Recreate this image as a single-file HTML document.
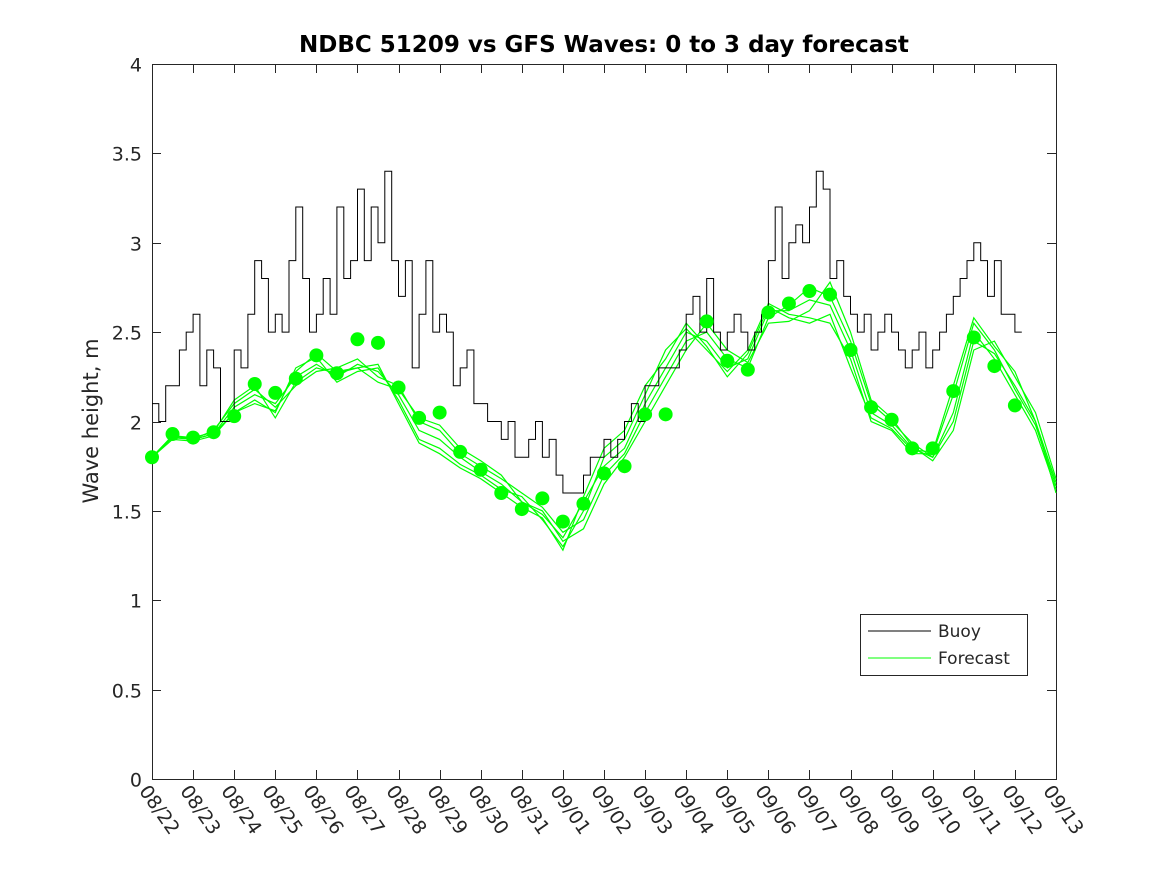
<!DOCTYPE html>
<html><head><meta charset="utf-8"><style>
body{margin:0;background:#fff}
svg text{font-family:"DejaVu Sans","Liberation Sans",sans-serif;fill:#262626}
</style></head><body>
<svg width="1167" height="875" viewBox="0 0 1167 875">
<rect width="1167" height="875" fill="#fff"/>
<text x="604" y="52" text-anchor="middle" font-size="23" font-weight="bold" style="fill:#000">NDBC 51209 vs GFS Waves: 0 to 3 day forecast</text>
<g id="axes"></g>
<g id="plot"></g>
<text transform="translate(98,421) rotate(-90)" text-anchor="middle" font-size="21">Wave height, m</text>
<g>
<rect x="860.5" y="614.5" width="167" height="61" fill="#fff" stroke="#262626" stroke-width="1"/>
<line x1="868" y1="631" x2="931" y2="631" stroke="#000"/>
<text x="938" y="637" font-size="17">Buoy</text>
<line x1="868" y1="658" x2="931" y2="658" stroke="#00ff00"/>
<text x="938" y="664" font-size="17">Forecast</text>
</g>
</svg>
<script>
const xTickLabels=["08/22","08/23","08/24","08/25","08/26","08/27","08/28","08/29","08/30","08/31","09/01","09/02","09/03","09/04","09/05","09/06","09/07","09/08","09/09","09/10","09/11","09/12","09/13"];
const yTicks=[0,0.5,1,1.5,2,2.5,3,3.5,4];
const yTickLabels=["0","0.5","1","1.5","2","2.5","3","3.5","4"];
// buoy every 4 hours (days from 08/22)
const buoy=[2.1,2.0,2.2,2.2,2.4,2.5,
2.6,2.2,2.4,2.3,2.0,2.0,
2.4,2.3,2.6,2.9,2.8,2.5,
2.6,2.5,2.9,3.2,2.8,2.5,
2.6,2.8,2.6,3.2,2.8,2.9,
3.3,2.9,3.2,3.0,3.4,2.9,
2.7,2.9,2.3,2.6,2.9,2.5,
2.6,2.5,2.2,2.3,2.4,2.1,
2.1,2.0,2.0,1.9,2.0,1.8,
1.8,1.9,2.0,1.8,1.9,1.7,
1.6,1.6,1.6,1.7,1.8,1.8,
1.9,1.8,1.9,2.0,2.1,2.0,
2.2,2.2,2.3,2.3,2.3,2.4,
2.6,2.7,2.5,2.8,2.5,2.4,
2.5,2.6,2.5,2.4,2.5,2.6,
2.9,3.2,2.8,3.0,3.1,3.0,
3.2,3.4,3.3,2.8,2.9,2.7,
2.6,2.5,2.6,2.4,2.5,2.6,
2.5,2.4,2.3,2.4,2.5,2.3,
2.4,2.5,2.6,2.7,2.8,2.9,
3.0,2.9,2.7,2.9,2.6,2.6,
2.5,2.5];
const buoyStep=1/6;
// forecast lines every 12 hours
const fcA=[1.80,1.92,1.90,1.93,2.08,2.15,2.10,2.25,2.32,2.25,2.32,2.28,2.15,1.95,1.90,1.80,1.72,1.65,1.55,1.48,1.35,1.55,1.75,1.85,2.10,2.30,2.50,2.45,2.30,2.35,2.62,2.62,2.68,2.65,2.40,2.05,1.98,1.85,1.80,2.05,2.50,2.35,2.15,1.95,1.62];
const fcB=[1.80,1.90,1.89,1.92,2.05,2.12,2.05,2.30,2.36,2.22,2.28,2.30,2.12,1.90,1.85,1.76,1.70,1.62,1.58,1.45,1.30,1.50,1.80,1.90,2.15,2.40,2.52,2.40,2.28,2.40,2.66,2.60,2.58,2.55,2.35,2.00,1.95,1.82,1.82,2.15,2.55,2.40,2.18,1.98,1.64];
const fcC=[1.80,1.91,1.90,1.95,2.10,2.18,2.08,2.20,2.28,2.30,2.35,2.25,2.20,2.00,1.95,1.82,1.75,1.68,1.60,1.52,1.38,1.45,1.70,1.82,2.05,2.25,2.45,2.50,2.35,2.30,2.58,2.65,2.75,2.70,2.45,2.10,2.00,1.88,1.80,2.00,2.45,2.38,2.20,2.00,1.66];
const fcD=[1.80,1.92,1.91,1.94,2.12,2.20,2.02,2.22,2.30,2.27,2.30,2.22,2.18,2.02,1.98,1.85,1.78,1.70,1.55,1.50,1.33,1.40,1.65,1.80,2.00,2.20,2.40,2.55,2.40,2.33,2.55,2.56,2.62,2.78,2.50,2.12,2.02,1.86,1.78,1.95,2.40,2.45,2.25,2.05,1.68];
const fcE=[1.80,1.92,1.90,1.93,2.05,2.10,2.06,2.28,2.38,2.28,2.30,2.32,2.10,1.88,1.82,1.74,1.68,1.60,1.52,1.46,1.28,1.58,1.85,1.95,2.20,2.35,2.55,2.42,2.25,2.38,2.64,2.58,2.55,2.60,2.30,2.02,1.96,1.84,1.83,2.20,2.58,2.42,2.28,2.00,1.60];
const fcDots=[1.80,1.93,1.91,1.94,2.03,2.21,2.16,2.24,2.37,2.27,2.46,2.44,2.19,2.02,2.05,1.83,1.73,1.60,1.51,1.57,1.44,1.54,1.71,1.75,2.04,2.04,null,2.56,2.34,2.29,2.61,2.66,2.73,2.71,2.40,2.08,2.01,1.85,1.85,2.17,2.47,2.31,2.09];
const fcStep=0.5;

const X0=152,X1=1056,Y0=779,Y1=64,NDAYS=22,YMAX=4;
const xs=d=>X0+d/NDAYS*(X1-X0);
const ys=v=>Y0-v/YMAX*(Y0-Y1);
const NS="http://www.w3.org/2000/svg";
function mk(tag,attrs,parent){const e=document.createElementNS(NS,tag);for(const k in attrs)e.setAttribute(k,attrs[k]);parent.appendChild(e);return e;}
const axes=document.getElementById('axes'),plot=document.getElementById('plot');

const box=mk('rect',{x:X0+0.5,y:Y1+0.5,width:X1-X0,height:Y0-Y1,fill:'none',stroke:'#262626','stroke-width':1},axes);


xTickLabels.forEach((lab,i)=>{
  const x=Math.round(xs(i))+0.5;
  const t1=mk('line',{x1:x,y1:Y0,x2:x,y2:Y0-9,stroke:'#262626'},axes);
  
  
  const t2=mk('line',{x1:x,y1:Y1,x2:x,y2:Y1+9,stroke:'#262626'},axes);
  
  
  const tx=mk('text',{x:0,y:0,'font-size':19,transform:`translate(${x-14},${Y0+12}) rotate(55)`},axes);
  tx.textContent=lab;
  
  
});
yTicks.forEach((v,i)=>{
  const y=Math.round(ys(v))+0.5;
  const t1=mk('line',{x1:X0,y1:y,x2:X0+9,y2:y,stroke:'#262626'},axes);
  
  
  const t2=mk('line',{x1:X1,y1:y,x2:X1-9,y2:y,stroke:'#262626'},axes);
  
  
  const tx=mk('text',{x:X0-10,y:y+7,'font-size':19,'text-anchor':'end'},axes);
  tx.textContent=yTickLabels[i];
  
  
});

[fcA,fcB,fcC,fcD,fcE].forEach(arr=>{
  const pts=arr.map((v,i)=>xs(i*fcStep).toFixed(1)+','+ys(v).toFixed(1)).join(' ');
  const pl=mk('polyline',{points:pts,fill:'none',stroke:'#00ff00','stroke-width':1.2},plot);
  
  
});
// buoy step line
let d='';
buoy.forEach((v,i)=>{const x=xs(i*buoyStep).toFixed(1),y=ys(v).toFixed(1);d+=(i?`H${x}V${y}`:`M${x},${y}`);});
const bl=mk('path',{d:d,fill:'none',stroke:'#000','stroke-width':1},plot);


fcDots.forEach((v,i)=>{
  if(v===null)return;
  const c=mk('circle',{cx:xs(i*fcStep),cy:ys(v),r:7,fill:'#00ff00'},plot);
  
  
});
</script>
</body></html>
